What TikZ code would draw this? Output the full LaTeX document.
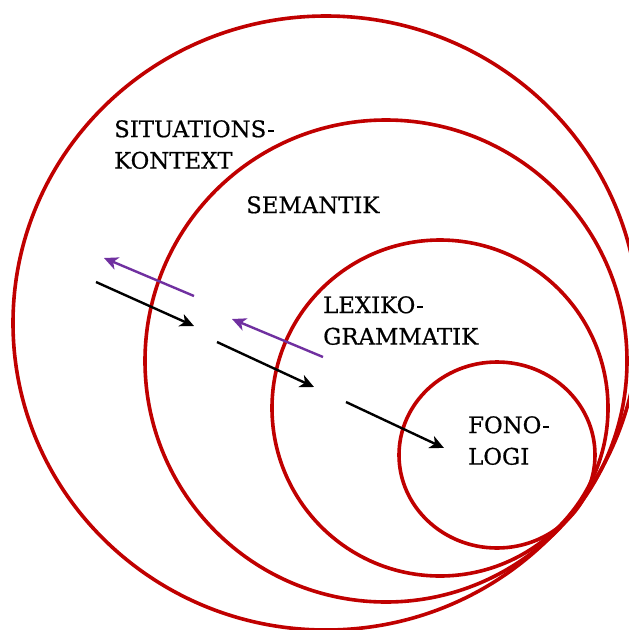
\documentclass[tikz,border=0pt]{standalone}
\usepackage{fontspec}
\setmainfont{DejaVu Serif}
\newfontfamily\lblfont{DejaVu Serif}[FakeBold=0.6]
\usetikzlibrary{arrows.meta}
\definecolor{ringred}{HTML}{C00000}
\definecolor{backpurple}{HTML}{7030A0}
\begin{document}
\begin{tikzpicture}[x=1pt,y=-1pt,
  ring/.style={draw=ringred, line width=3.6pt},
  fwd/.style={draw=black, line width=2.4pt, -{Stealth[length=14pt,width=13pt,inset=4pt]}},
  bwd/.style={draw=backpurple, line width=2.4pt, -{Stealth[length=14pt,width=13pt,inset=4pt]}},
  lbl/.style={anchor=north west, inner sep=0pt, align=left, font=\lblfont\fontsize{22.8}{31.5}\selectfont}]
\useasboundingbox (0,0) rectangle (629,630);
\clip (0,0) rectangle (629,630);
\fill[white] (0,0) rectangle (629,630);
% rings
\draw[ring] (326,323) ellipse[x radius=313, y radius=307];
\draw[ring] (386,361) circle[radius=241];
\draw[ring] (440,408) circle[radius=168];
\draw[ring] (497,455) ellipse[x radius=98, y radius=93];
% labels
\node[lbl] (sit) at (114,120) {SITUATIONS-\\KONTEXT};
\node[lbl] (sem) at (246,196) {SEMANTIK};
\node[lbl] (lex) at (323,296) {LEXIKO-\\GRAMMATIK};
\node[lbl] (fon) at (468,416) {FONO-\\LOGI};
% arrow end points
\coordinate (f1s) at (96,282);  \coordinate (f1e) at (194,326);
\coordinate (f2s) at (217,342); \coordinate (f2e) at (314,387);
\coordinate (f3s) at (346,402); \coordinate (f3e) at (444,448);
\coordinate (b1s) at (194,296); \coordinate (b1e) at (104,258);
\coordinate (b2s) at (323,357); \coordinate (b2e) at (232,319);
\draw[fwd] (f1s) -- (f1e);
\draw[fwd] (f2s) -- (f2e);
\draw[fwd] (f3s) -- (f3e);
\draw[bwd] (b1s) -- (b1e);
\draw[bwd] (b2s) -- (b2e);
\end{tikzpicture}
\end{document}
